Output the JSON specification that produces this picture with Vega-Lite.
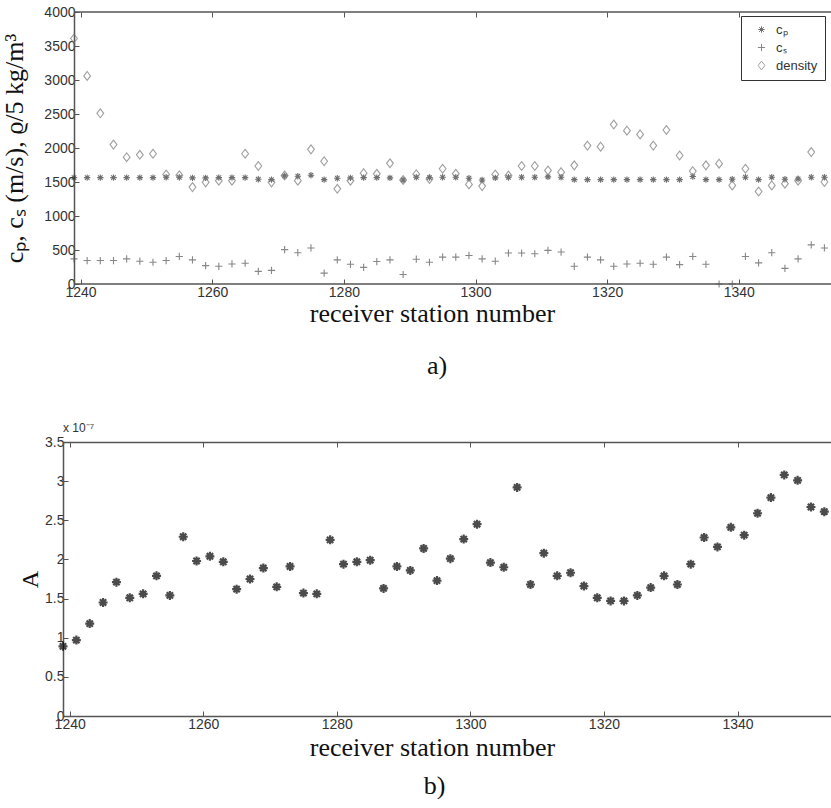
{
  "$schema": "https://vega.github.io/schema/vega-lite/v6.json",
  "padding": {"left": 0, "top": 5, "right": 0, "bottom": 0},
  "background": "white",
  "spacing": 43,
  "config": {
    "view": {"stroke": null},
    "axis": {
      "labelFont": "Liberation Sans", "labelFontSize": 14, "labelColor": "#333",
      "domainColor": "#555", "tickColor": "#555", "domainWidth": 1.5, "tickWidth": 1,
      "grid": false, "titleFont": "Liberation Serif", "titleFontWeight": "normal",
      "titleColor": "#111", "labelFlush": false, "labelOverlap": false
    }
  },
  "title": {"text": "b)", "orient": "bottom", "font": "Liberation Serif", "fontSize": 26, "fontWeight": "normal", "anchor": "middle", "offset": 13, "dx": 18, "color": "#111"},
  "datasets": {
    "top": [
      {"station":1239,"series":"cP","value":1565},{"station":1241,"series":"cP","value":1565},{"station":1243,"series":"cP","value":1565},{"station":1245,"series":"cP","value":1565},{"station":1247,"series":"cP","value":1565},{"station":1249,"series":"cP","value":1565},{"station":1251,"series":"cP","value":1565},{"station":1253,"series":"cP","value":1570},{"station":1255,"series":"cP","value":1570},{"station":1257,"series":"cP","value":1560},{"station":1259,"series":"cP","value":1560},{"station":1261,"series":"cP","value":1565},{"station":1263,"series":"cP","value":1565},{"station":1265,"series":"cP","value":1565},{"station":1267,"series":"cP","value":1540},{"station":1269,"series":"cP","value":1535},{"station":1271,"series":"cP","value":1590},{"station":1273,"series":"cP","value":1585},{"station":1275,"series":"cP","value":1600},{"station":1277,"series":"cP","value":1535},{"station":1279,"series":"cP","value":1555},{"station":1281,"series":"cP","value":1560},{"station":1283,"series":"cP","value":1565},{"station":1285,"series":"cP","value":1565},{"station":1287,"series":"cP","value":1560},{"station":1289,"series":"cP","value":1530},{"station":1291,"series":"cP","value":1570},{"station":1293,"series":"cP","value":1565},{"station":1295,"series":"cP","value":1570},{"station":1297,"series":"cP","value":1570},{"station":1299,"series":"cP","value":1555},{"station":1301,"series":"cP","value":1530},{"station":1303,"series":"cP","value":1560},{"station":1305,"series":"cP","value":1570},{"station":1307,"series":"cP","value":1570},{"station":1309,"series":"cP","value":1570},{"station":1311,"series":"cP","value":1575},{"station":1313,"series":"cP","value":1570},{"station":1315,"series":"cP","value":1535},{"station":1317,"series":"cP","value":1535},{"station":1319,"series":"cP","value":1535},{"station":1321,"series":"cP","value":1535},{"station":1323,"series":"cP","value":1535},{"station":1325,"series":"cP","value":1535},{"station":1327,"series":"cP","value":1535},{"station":1329,"series":"cP","value":1535},{"station":1331,"series":"cP","value":1535},{"station":1333,"series":"cP","value":1580},{"station":1335,"series":"cP","value":1535},{"station":1337,"series":"cP","value":1535},{"station":1339,"series":"cP","value":1540},{"station":1341,"series":"cP","value":1570},{"station":1343,"series":"cP","value":1535},{"station":1345,"series":"cP","value":1570},{"station":1347,"series":"cP","value":1540},{"station":1349,"series":"cP","value":1545},{"station":1351,"series":"cP","value":1570},{"station":1353,"series":"cP","value":1570},
      {"station":1239,"series":"cS","value":370},{"station":1241,"series":"cS","value":345},{"station":1243,"series":"cS","value":345},{"station":1245,"series":"cS","value":345},{"station":1247,"series":"cS","value":370},{"station":1249,"series":"cS","value":335},{"station":1251,"series":"cS","value":320},{"station":1253,"series":"cS","value":345},{"station":1255,"series":"cS","value":405},{"station":1257,"series":"cS","value":355},{"station":1259,"series":"cS","value":270},{"station":1261,"series":"cS","value":260},{"station":1263,"series":"cS","value":295},{"station":1265,"series":"cS","value":305},{"station":1267,"series":"cS","value":185},{"station":1269,"series":"cS","value":200},{"station":1271,"series":"cS","value":505},{"station":1273,"series":"cS","value":460},{"station":1275,"series":"cS","value":530},{"station":1277,"series":"cS","value":160},{"station":1279,"series":"cS","value":355},{"station":1281,"series":"cS","value":290},{"station":1283,"series":"cS","value":245},{"station":1285,"series":"cS","value":330},{"station":1287,"series":"cS","value":355},{"station":1289,"series":"cS","value":140},{"station":1291,"series":"cS","value":365},{"station":1293,"series":"cS","value":320},{"station":1295,"series":"cS","value":395},{"station":1297,"series":"cS","value":395},{"station":1299,"series":"cS","value":420},{"station":1301,"series":"cS","value":370},{"station":1303,"series":"cS","value":335},{"station":1305,"series":"cS","value":455},{"station":1307,"series":"cS","value":455},{"station":1309,"series":"cS","value":445},{"station":1311,"series":"cS","value":495},{"station":1313,"series":"cS","value":470},{"station":1315,"series":"cS","value":260},{"station":1317,"series":"cS","value":395},{"station":1319,"series":"cS","value":355},{"station":1321,"series":"cS","value":260},{"station":1323,"series":"cS","value":295},{"station":1325,"series":"cS","value":305},{"station":1327,"series":"cS","value":290},{"station":1329,"series":"cS","value":395},{"station":1331,"series":"cS","value":285},{"station":1333,"series":"cS","value":405},{"station":1335,"series":"cS","value":290},{"station":1337,"series":"cS","value":0},{"station":1339,"series":"cS","value":0},{"station":1341,"series":"cS","value":405},{"station":1343,"series":"cS","value":310},{"station":1345,"series":"cS","value":460},{"station":1347,"series":"cS","value":230},{"station":1349,"series":"cS","value":370},{"station":1351,"series":"cS","value":575},{"station":1353,"series":"cS","value":530},
      {"station":1239,"series":"density","value":3610},{"station":1241,"series":"density","value":3060},{"station":1243,"series":"density","value":2510},{"station":1245,"series":"density","value":2050},{"station":1247,"series":"density","value":1865},{"station":1249,"series":"density","value":1900},{"station":1251,"series":"density","value":1915},{"station":1253,"series":"density","value":1610},{"station":1255,"series":"density","value":1600},{"station":1257,"series":"density","value":1425},{"station":1259,"series":"density","value":1495},{"station":1261,"series":"density","value":1520},{"station":1263,"series":"density","value":1520},{"station":1265,"series":"density","value":1915},{"station":1267,"series":"density","value":1735},{"station":1269,"series":"density","value":1495},{"station":1271,"series":"density","value":1595},{"station":1273,"series":"density","value":1520},{"station":1275,"series":"density","value":1980},{"station":1277,"series":"density","value":1805},{"station":1279,"series":"density","value":1400},{"station":1281,"series":"density","value":1520},{"station":1283,"series":"density","value":1630},{"station":1285,"series":"density","value":1620},{"station":1287,"series":"density","value":1775},{"station":1289,"series":"density","value":1530},{"station":1291,"series":"density","value":1615},{"station":1293,"series":"density","value":1545},{"station":1295,"series":"density","value":1695},{"station":1297,"series":"density","value":1620},{"station":1299,"series":"density","value":1465},{"station":1301,"series":"density","value":1440},{"station":1303,"series":"density","value":1610},{"station":1305,"series":"density","value":1595},{"station":1307,"series":"density","value":1735},{"station":1309,"series":"density","value":1735},{"station":1311,"series":"density","value":1670},{"station":1313,"series":"density","value":1645},{"station":1315,"series":"density","value":1745},{"station":1317,"series":"density","value":2035},{"station":1319,"series":"density","value":2020},{"station":1321,"series":"density","value":2345},{"station":1323,"series":"density","value":2255},{"station":1325,"series":"density","value":2200},{"station":1327,"series":"density","value":2035},{"station":1329,"series":"density","value":2265},{"station":1331,"series":"density","value":1890},{"station":1333,"series":"density","value":1660},{"station":1335,"series":"density","value":1745},{"station":1337,"series":"density","value":1770},{"station":1339,"series":"density","value":1450},{"station":1341,"series":"density","value":1695},{"station":1343,"series":"density","value":1360},{"station":1345,"series":"density","value":1450},{"station":1347,"series":"density","value":1475},{"station":1349,"series":"density","value":1520},{"station":1351,"series":"density","value":1940},{"station":1353,"series":"density","value":1500}
    ],
    "bottom": [
      {"station":1239,"A":0.89},{"station":1241,"A":0.97},{"station":1243,"A":1.18},{"station":1245,"A":1.45},{"station":1247,"A":1.71},{"station":1249,"A":1.51},{"station":1251,"A":1.56},{"station":1253,"A":1.79},{"station":1255,"A":1.54},{"station":1257,"A":2.29},{"station":1259,"A":1.98},{"station":1261,"A":2.04},{"station":1263,"A":1.97},{"station":1265,"A":1.62},{"station":1267,"A":1.75},{"station":1269,"A":1.89},{"station":1271,"A":1.65},{"station":1273,"A":1.91},{"station":1275,"A":1.57},{"station":1277,"A":1.56},{"station":1279,"A":2.25},{"station":1281,"A":1.94},{"station":1283,"A":1.97},{"station":1285,"A":1.99},{"station":1287,"A":1.63},{"station":1289,"A":1.91},{"station":1291,"A":1.86},{"station":1293,"A":2.14},{"station":1295,"A":1.73},{"station":1297,"A":2.01},{"station":1299,"A":2.26},{"station":1301,"A":2.45},{"station":1303,"A":1.96},{"station":1305,"A":1.9},{"station":1307,"A":2.92},{"station":1309,"A":1.68},{"station":1311,"A":2.08},{"station":1313,"A":1.79},{"station":1315,"A":1.83},{"station":1317,"A":1.66},{"station":1319,"A":1.51},{"station":1321,"A":1.47},{"station":1323,"A":1.47},{"station":1325,"A":1.54},{"station":1327,"A":1.64},{"station":1329,"A":1.79},{"station":1331,"A":1.68},{"station":1333,"A":1.94},{"station":1335,"A":2.28},{"station":1337,"A":2.16},{"station":1339,"A":2.41},{"station":1341,"A":2.31},{"station":1343,"A":2.59},{"station":1345,"A":2.79},{"station":1347,"A":3.08},{"station":1349,"A":3.01},{"station":1351,"A":2.67},{"station":1353,"A":2.61}
    ]
  },
  "vconcat": [
    {
      "width": 768,
      "height": 272,
      "data": {"name": "top"},
      "title": {"text": "a)", "orient": "bottom", "frame": "group", "font": "Liberation Serif", "fontSize": 26, "fontWeight": "normal", "anchor": "middle", "offset": 27, "dx": -10, "color": "#111"},
      "layer": [
        {
          "data": {"values": [{}]},
          "mark": {"type": "rule", "color": "#555", "strokeWidth": 1.5},
          "encoding": {
            "x": {"datum": 1239, "type": "quantitative", "scale": {"domain": [1237.33, 1354], "nice": false, "zero": false}, "axis": null},
            "x2": {"datum": 1354},
            "y": {"datum": 0, "type": "quantitative", "scale": {"domain": [0, 4000], "nice": false}, "axis": null}
          }
        },
        {
          "data": {"values": [{}]},
          "mark": {"type": "rule", "color": "#555", "strokeWidth": 1.5},
          "encoding": {
            "x": {"datum": 1239, "type": "quantitative", "axis": null},
            "x2": {"datum": 1354},
            "y": {"datum": 4000, "type": "quantitative", "axis": null}
          }
        },
        {
          "mark": {"type": "point", "filled": false, "size": 64, "strokeWidth": 1.1},
          "encoding": {
            "x": {"field": "station", "type": "quantitative",
              "axis": {"orient": "bottom", "domain": false, "values": [1240, 1260, 1280, 1300, 1320, 1340], "format": "d", "tickSize": -5, "labelPadding": 6, "title": "receiver station number", "titleFontSize": 26, "titlePadding": 1, "titleX": 369}},
            "y": {"field": "value", "type": "quantitative",
              "axis": {"offset": -11, "values": [0, 500, 1000, 1500, 2000, 2500, 3000, 3500, 4000], "format": "d", "tickSize": -5, "labelPadding": 4, "title": "cₚ,  cₛ  (m/s),  ϱ/5  kg/m³", "titleFontSize": 26, "titlePadding": 16}},
            "shape": {"field": "series", "type": "nominal",
              "scale": {"domain": ["cP", "cS", "density"], "range": ["M0,-0.8L0,0.8M-0.8,0L0.8,0M-0.57,-0.57L0.57,0.57M-0.57,0.57L0.57,-0.57", "M0,-0.9L0,0.9M-0.9,0L0.9,0", "M0,-1.1L0.85,0L0,1.1L-0.85,0Z"]},
              "legend": {"orient": "none", "legendX": 678, "legendY": 4, "title": null, "strokeColor": "#333", "fillColor": "white", "padding": 7, "rowPadding": 4, "symbolOffset": 7, "labelOffset": 8, "symbolSize": 64, "symbolStrokeWidth": 1, "labelFont": "Liberation Sans", "labelFontSize": 13, "labelColor": "#333", "labelExpr": "datum.value == 'cP' ? 'cₚ' : datum.value == 'cS' ? 'cₛ' : 'density'"}},
            "color": {"field": "series", "type": "nominal",
              "scale": {"domain": ["cP", "cS", "density"], "range": ["#333333", "#555555", "#777777"]}}
          }
        },
        {
          "mark": {"type": "point", "opacity": 0},
          "encoding": {
            "x": {"field": "station", "type": "quantitative",
              "axis": {"orient": "top", "domain": false, "values": [1240, 1260, 1280, 1300, 1320, 1340], "labels": false, "title": null, "tickSize": -5}},
            "y": {"field": "value", "type": "quantitative",
              "axis": {"orient": "left", "labels": false, "ticks": false, "domain": false, "title": " ", "titleFontSize": 10, "titlePadding": 53, "titleOpacity": 0}}
          }
        }
      ],
      "resolve": {"axis": {"x": "independent", "y": "independent"}}
    },
    {
      "width": 768,
      "height": 274,
      "data": {"name": "bottom"},
      "title": {"text": "x 10⁻⁷", "orient": "top", "frame": "group", "anchor": "start", "font": "Liberation Sans", "fontSize": 12, "fontWeight": "normal", "offset": 0, "color": "#333"},
      "layer": [
        {
          "mark": {"type": "point", "filled": false, "size": 81, "strokeWidth": 2.2, "color": "#000", "shape": "M0,-1L0,1M-1,0L1,0M-0.7,-0.7L0.7,0.7M-0.7,0.7L0.7,-0.7"},
          "encoding": {
            "x": {"field": "station", "type": "quantitative",
              "scale": {"domain": [1239, 1354], "nice": false, "zero": false},
              "axis": {"orient": "bottom", "values": [1240, 1260, 1280, 1300, 1320, 1340], "format": "d", "tickSize": -5, "labelPadding": 6, "title": "receiver station number", "titleFontSize": 26, "titlePadding": 3, "titleX": 369}},
            "y": {"field": "A", "type": "quantitative",
              "scale": {"domain": [0, 3.5], "nice": false},
              "axis": {"values": [0, 0.5, 1, 1.5, 2, 2.5, 3, 3.5], "format": "~g", "tickSize": -5, "labelPadding": 4, "title": "A", "titleFontSize": 24, "titlePadding": 2}}
          }
        },
        {
          "mark": {"type": "point", "opacity": 0},
          "encoding": {
            "x": {"field": "station", "type": "quantitative",
              "axis": {"orient": "top", "values": [1240, 1260, 1280, 1300, 1320, 1340], "labels": false, "title": null, "tickSize": -5}},
            "y": {"field": "A", "type": "quantitative",
              "axis": {"orient": "left", "labels": false, "ticks": false, "domain": false, "title": " ", "titleFontSize": 10, "titlePadding": 53, "titleOpacity": 0}}
          }
        }
      ],
      "resolve": {"axis": {"x": "independent", "y": "independent"}}
    }
  ]
}
